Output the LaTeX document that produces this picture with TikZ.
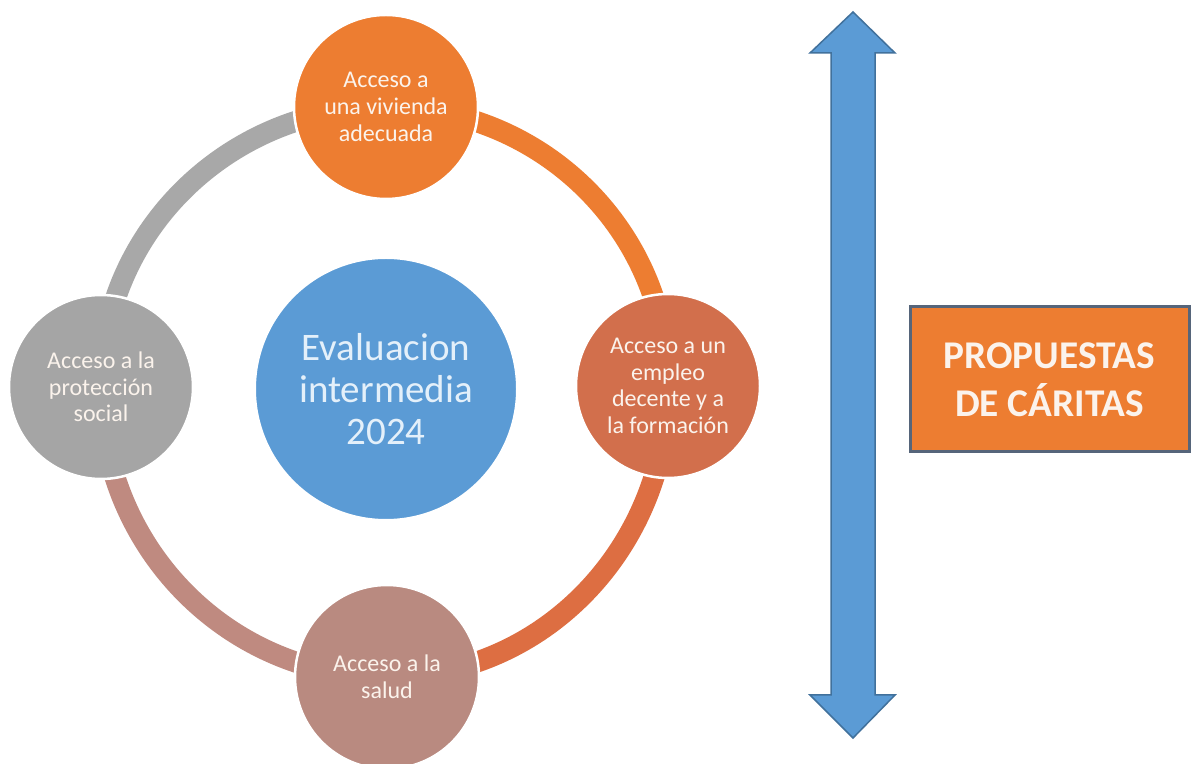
\documentclass[tikz,border=0pt]{standalone}
\usepackage{fontspec}
\setmainfont{Carlito}
\definecolor{cOrange}{HTML}{ED7D31}
\definecolor{cTerra}{HTML}{D26F4C}
\definecolor{cRose}{HTML}{B98A80}
\definecolor{cGray}{HTML}{A5A5A5}
\definecolor{cBlue}{HTML}{5B9BD5}
\definecolor{cBlueDark}{HTML}{41719C}
\definecolor{cSlate}{HTML}{56657A}
\definecolor{cArcTR}{HTML}{ED7D31}
\definecolor{cArcRB}{HTML}{DD6E42}
\definecolor{cArcBL}{HTML}{BF8A80}
\definecolor{cArcLT}{HTML}{A8A8A8}
\definecolor{cTextLight}{HTML}{FBF3EC}
\definecolor{cTextBlue}{HTML}{E4F0FA}
\begin{document}
\begin{tikzpicture}[x=1pt,y=1pt,
  smallcirc/.style={circle, minimum size=184pt, inner sep=0pt, draw=white, line width=2.5pt,
    text=cTextLight, align=center, font={\fontsize{24}{26.7}\selectfont}},
  ringarc/.style={line width=21pt},
  bigcirc/.style={circle, minimum size=262pt, inner sep=0pt, fill=cBlue, draw=white, line width=2pt,
    text=cTextBlue, align=center, font={\fontsize{39}{42}\selectfont}},
  propbox/.style={rectangle, minimum width=279pt, minimum height=145pt, inner sep=0pt,
    fill=cOrange, draw=cSlate, line width=3pt, text=cTextLight, align=center,
    font={\fontsize{39.3}{48}\selectfont\bfseries}},
  arrowshape/.style={fill=cBlue, draw=cBlueDark, line width=1.5pt, line join=miter}
]
\useasboundingbox (0,0) rectangle (1194,763);
\fill[white] (0,0) rectangle (1194,763);

% circle positions (named coordinates)
\coordinate (ptop) at (386,656);
\coordinate (pright) at (668,377);
\coordinate (pbottom) at (387,86);
\coordinate (pleft) at (101,376);

% ring arcs
\draw[ringarc, cArcTR] (ptop) to[out=0,in=90] (pright);
\draw[ringarc, cArcRB] (pright) to[out=-90,in=0] (pbottom);
\draw[ringarc, cArcBL] (pbottom) to[out=180,in=-90] (pleft);
\draw[ringarc, cArcLT] (pleft) to[out=90,in=180] (ptop);

% circles
\node[smallcirc, fill=cOrange] (top) at (ptop) {Acceso a\\una vivienda\\adecuada};
\node[smallcirc, fill=cTerra] (right) at (pright) {Acceso a un\\empleo\\decente y a\\la formación};
\node[smallcirc, fill=cRose] (bottom) at (pbottom) {Acceso a la\\salud};
\node[smallcirc, fill=cGray] (left) at (pleft) {Acceso a la\\protección\\social};
\node[bigcirc] (center) at (386,374) {Evaluacion\\intermedia\\2024};

% double arrow
\coordinate (atop) at (853,751);
\coordinate (abot) at (853,25);
\draw[arrowshape] (atop) -- (895,710) -- (875,710) -- (875,68) -- (895,68) -- (abot)
  -- (810,68) -- (831,68) -- (831,710) -- (810,710) -- cycle;

% box
\node[propbox] (prop) at (1049.5,383.5) {PROPUESTAS\\DE CÁRITAS};
\end{tikzpicture}
\end{document}
